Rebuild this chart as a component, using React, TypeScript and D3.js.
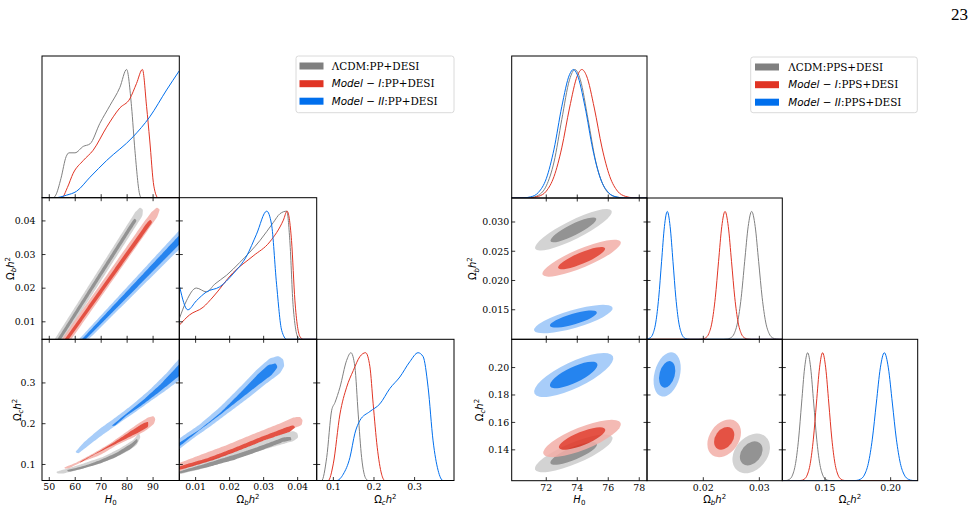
import React from "react";
import * as d3 from "d3";

type P = [number, number];
type Ell = [number, number, number, number, number];

const GRAY = "#808080";
const RED = "#E03424";
const BLUE = "#006FED";
const LIGHT: Record<string, string> = { gray: "#CCCCCC", red: "#F3AEA7", blue: "#99C5F8" };
const DARK: Record<string, string> = { gray: GRAY, red: RED, blue: BLUE };
const SERIES = ["gray", "red", "blue"];

// ---------------- LEFT TRIANGLE : PP+DESI ----------------
const L_H0_RANGE: P = [47.2, 100.1];
const L_OB_RANGE_X: P = [0.0052, 0.0456];
const L_OB_RANGE_Y: P = [0.0048, 0.0469];
const L_OC_RANGE_X: P = [0.059, 0.397];
const L_OC_RANGE_Y: P = [0.0607, 0.407];
const L_H0_TICKS = [50, 60, 70, 80, 90];
const L_H0_LABELS = ["50", "60", "70", "80", "90"];
const L_OB_TICKS = [0.01, 0.02, 0.03, 0.04];
const L_OB_LABELS = ["0.01", "0.02", "0.03", "0.04"];
const L_OC_TICKS = [0.1, 0.2, 0.3];
const L_OC_LABELS = ["0.1", "0.2", "0.3"];

const L_H0_GRAY: P[] = [[47.2, 0], [51.5, 0], [52.5, 0.02], [54.5, 0.15], [56.5, 0.32], [57.6, 0.35], [59.9, 0.35], [63.1, 0.4], [65.7, 0.42], [69.5, 0.58], [73.4, 0.72], [77.2, 0.86], [79.8, 1.0], [81.7, 0.71], [83.0, 0.37], [84.9, 0.02], [85.5, 0], [100.1, 0]];
const L_H0_RED: P[] = [[47.2, 0], [54.8, 0], [57, 0.08], [59.2, 0.19], [63.1, 0.29], [66.9, 0.37], [72.1, 0.55], [77.2, 0.7], [81.0, 0.77], [83.6, 0.89], [85.9, 1.0], [87.5, 0.71], [88.7, 0.45], [90.3, 0.09], [91.9, 0], [100.1, 0]];
const L_H0_BLUE: P[] = [[47.2, 0], [52.2, 0], [56.7, 0.02], [60.5, 0.05], [65.7, 0.16], [72.1, 0.29], [82.3, 0.475], [88.7, 0.63], [95.2, 0.84], [100.1, 0.99]];

const L_OB_GRAY: P[] = [[0.0052, 0.16], [0.0073, 0.3], [0.0102, 0.4], [0.0132, 0.37], [0.0156, 0.43], [0.0191, 0.5], [0.023, 0.6], [0.0289, 0.77], [0.0328, 0.91], [0.0348, 0.98], [0.0368, 1.0], [0.0377, 0.77], [0.0387, 0.25], [0.0402, 0.01], [0.0412, 0], [0.0456, 0]];
const L_OB_RED: P[] = [[0.0052, 0.11], [0.0082, 0.19], [0.0122, 0.25], [0.0151, 0.33], [0.021, 0.52], [0.0269, 0.65], [0.0318, 0.76], [0.0358, 0.93], [0.0369, 1.0], [0.0382, 0.77], [0.0392, 0.3], [0.0407, 0.02], [0.0417, 0], [0.0456, 0]];
const L_OB_BLUE: P[] = [[0.0053, 0.41], [0.0077, 0.23], [0.0102, 0.3], [0.0132, 0.37], [0.0171, 0.41], [0.021, 0.51], [0.025, 0.65], [0.0279, 0.82], [0.0309, 1.0], [0.0323, 0.9], [0.0338, 0.43], [0.0353, 0.07], [0.0368, 0], [0.0456, 0]];

const L_OC_GRAY: P[] = [[0.059, 0], [0.0713, 0], [0.0836, 0.18], [0.0959, 0.55], [0.104, 0.61], [0.1163, 0.73], [0.1327, 0.94], [0.1433, 1.0], [0.153, 0.89], [0.1612, 0.52], [0.1696, 0.18], [0.18, 0.015], [0.186, 0], [0.397, 0]];
const L_OC_RED: P[] = [[0.059, 0], [0.0875, 0], [0.0998, 0.13], [0.1163, 0.52], [0.1327, 0.73], [0.149, 0.86], [0.1654, 0.97], [0.1794, 1.0], [0.19, 0.89], [0.198, 0.6], [0.208, 0.26], [0.2187, 0.05], [0.2268, 0], [0.397, 0]];
const L_OC_BLUE: P[] = [[0.059, 0], [0.1081, 0], [0.1245, 0.05], [0.1408, 0.18], [0.1531, 0.37], [0.1654, 0.47], [0.19, 0.54], [0.2146, 0.6], [0.2391, 0.72], [0.2637, 0.81], [0.2883, 0.93], [0.3086, 1.0], [0.3209, 0.97], [0.3332, 0.73], [0.3455, 0.31], [0.3578, 0.08], [0.3701, 0], [0.397, 0]];

// 2D contours (H0 vs Ωb h²)
const L_H0OB_GRAY_OUT: P[] = [[48.11, 0], [81.0, 0.04], [83.3, 0.0428], [85.0, 0.044], [86.1, 0.0434], [85.9, 0.0415], [51.61, 0]];
const L_H0OB_GRAY_IN: P[] = [[49.16, 0], [81.9, 0.0398], [82.9, 0.0408], [83.7, 0.0401], [50.56, 0]];
const L_H0OB_RED_OUT: P[] = [[50.5, 0], [86.77, 0.04], [89.6, 0.0428], [91.5, 0.044], [92.6, 0.0434], [91.6, 0.0412], [54.1, 0]];
const L_H0OB_RED_IN: P[] = [[51.55, 0], [87.7, 0.0395], [89.0, 0.0404], [89.7, 0.0396], [53.05, 0]];
const L_H0OB_BLUE_OUT: P[] = [[55.7, 0], [102, 0.0388], [102, 0.033], [58.9, 0]];
const L_H0OB_BLUE_IN: P[] = [[56.7, 0], [102, 0.0373], [102, 0.0345], [57.9, 0]];

// 2D contours (H0 vs Ωc h²)
const L_H0OC_GRAY_OUT: P[] = [[52.59, 0.0819], [57.97, 0.0918], [64.38, 0.1049], [70.79, 0.1188], [77.2, 0.1393], [82.33, 0.1597], [84.64, 0.1778], [85.15, 0.1663], [83.61, 0.1474], [79.77, 0.1311], [74.64, 0.1147], [68.23, 0.1], [61.82, 0.0877], [55.41, 0.0778], [53.1, 0.0778]];
const L_H0OC_GRAY_IN: P[] = [[56.69, 0.086], [63.1, 0.0959], [69.51, 0.1106], [75.92, 0.1286], [81.69, 0.1515], [83.87, 0.1638], [84.13, 0.1556], [81.69, 0.1393], [75.92, 0.1188], [69.51, 0.1024], [63.1, 0.0901], [57.33, 0.0819]];
const L_H0OC_RED_OUT: P[] = [[55.67, 0.0926], [60.54, 0.1049], [66.95, 0.127], [73.36, 0.1515], [79.77, 0.1802], [84.9, 0.2031], [88.1, 0.2154], [90.28, 0.2187], [90.92, 0.2105], [90.28, 0.199], [87.46, 0.1843], [82.33, 0.1663], [75.92, 0.1474], [69.51, 0.1229], [63.1, 0.1081], [57.97, 0.0918], [56.05, 0.0893]];
const L_H0OC_RED_IN: P[] = [[61.82, 0.1065], [68.23, 0.1286], [74.64, 0.1532], [81.05, 0.1802], [86.18, 0.2007], [88.1, 0.2048], [88.1, 0.1925], [84.9, 0.1802], [79.77, 0.1638], [73.36, 0.1434], [66.95, 0.1229], [61.82, 0.104]];
const L_H0OC_BLUE_OUT: P[] = [[60.0, 0.13], [63.1, 0.153], [69.5, 0.188], [75.9, 0.217], [82.3, 0.248], [88.7, 0.283], [95.2, 0.324], [101, 0.366], [101, 0.311], [95.2, 0.283], [88.7, 0.254], [82.3, 0.225], [75.9, 0.197], [69.5, 0.168], [64.4, 0.143], [61.2, 0.127]];
const L_H0OC_BLUE_IN: P[] = [[74.0, 0.195], [79.8, 0.225], [86.2, 0.258], [92.6, 0.295], [101, 0.352], [101, 0.322], [92.6, 0.279], [86.2, 0.248], [79.8, 0.22], [75.3, 0.195]];

// 2D contours (Ωb h² vs Ωc h²)
const L_OBOC_GRAY_OUT: P[] = [[0.0048, 0.0877], [0.01316, 0.109], [0.02102, 0.1311], [0.02889, 0.1556], [0.03577, 0.1761], [0.03872, 0.1818], [0.0399, 0.1778], [0.0402, 0.1663], [0.03872, 0.1573], [0.03282, 0.1434], [0.02495, 0.1229], [0.01709, 0.1024], [0.01119, 0.0877], [0.00529, 0.0762]];
const L_OBOC_GRAY_IN: P[] = [[0.0048, 0.0819], [0.01316, 0.1024], [0.02102, 0.1229], [0.02889, 0.145], [0.03577, 0.1663], [0.03794, 0.1679], [0.03823, 0.1597], [0.03577, 0.1556], [0.02889, 0.1335], [0.02102, 0.1106], [0.01316, 0.0926], [0.00529, 0.0778]];
const L_OBOC_RED_OUT: P[] = [[0.0048, 0.1024], [0.01119, 0.1229], [0.01905, 0.1474], [0.02692, 0.1745], [0.03479, 0.2007], [0.03872, 0.2154], [0.04069, 0.2171], [0.04147, 0.2089], [0.04118, 0.1966], [0.03872, 0.1884], [0.03282, 0.172], [0.02495, 0.1474], [0.01709, 0.1229], [0.01119, 0.104], [0.0048, 0.0819]];
const L_OBOC_RED_IN: P[] = [[0.0048, 0.0942], [0.01316, 0.1147], [0.02102, 0.1393], [0.02889, 0.1663], [0.03577, 0.1884], [0.03872, 0.1966], [0.03931, 0.1909], [0.03774, 0.1802], [0.03085, 0.1614], [0.02299, 0.1352], [0.01512, 0.1106], [0.00922, 0.0959], [0.0048, 0.086]];
const L_OBOC_BLUE_OUT: P[] = [[0.0048, 0.1614], [0.01119, 0.1982], [0.01709, 0.24], [0.02299, 0.2891], [0.0284, 0.3358], [0.03184, 0.3604], [0.0343, 0.3661], [0.03577, 0.3579], [0.03607, 0.3415], [0.03479, 0.3235], [0.03085, 0.299], [0.02594, 0.2662], [0.02004, 0.2293], [0.01414, 0.1925], [0.00922, 0.1638], [0.0048, 0.1352]];
const L_OBOC_BLUE_IN: P[] = [[0.0048, 0.1515], [0.01119, 0.1859], [0.01709, 0.2253], [0.02299, 0.2744], [0.0284, 0.3219], [0.03134, 0.344], [0.03361, 0.3481], [0.0341, 0.3383], [0.03233, 0.3194], [0.0284, 0.2949], [0.02299, 0.2596], [0.01709, 0.2212], [0.01119, 0.1843], [0.0048, 0.1417]];

// ---------------- RIGHT TRIANGLE : PPS+DESI ----------------
const R_H0_RANGE: P = [69.77, 78.5];
const R_OB_RANGE: P = [0.00995, 0.0341];
const R_OC_RANGE: P = [0.1175, 0.2206];
const R_H0_TICKS = [72, 74, 76, 78];
const R_H0_LABELS = ["72", "74", "76", "78"];
const R_OB_XTICKS = [0.02, 0.03];
const R_OB_XLABELS = ["0.02", "0.03"];
const R_OB_YTICKS = [0.015, 0.02, 0.025, 0.03];
const R_OB_YLABELS = ["0.015", "0.020", "0.025", "0.030"];
const R_OC_XTICKS = [0.15, 0.2];
const R_OC_XLABELS = ["0.15", "0.20"];
const R_OC_YTICKS = [0.14, 0.16, 0.18, 0.2];
const R_OC_YLABELS = ["0.14", "0.16", "0.18", "0.20"];

const R_H0_GRAY: P[] = [[69.77, 0], [71.0, 0.004], [71.5, 0.022], [72.0, 0.094], [72.5, 0.28], [73.0, 0.61], [73.5, 0.92], [73.85, 1], [74.2, 0.92], [74.7, 0.61], [75.2, 0.28], [75.7, 0.094], [76.2, 0.022], [76.7, 0.004], [77.2, 0], [78.5, 0]];
const R_H0_RED: P[] = [[69.77, 0], [71.0, 0.002], [71.5, 0.013], [72.0, 0.053], [72.5, 0.167], [73.0, 0.39], [73.5, 0.7], [74.0, 0.95], [74.3, 1], [74.6, 0.95], [75.1, 0.7], [75.6, 0.39], [76.1, 0.167], [76.6, 0.053], [77.1, 0.013], [77.6, 0.002], [78.1, 0], [78.5, 0]];
const R_H0_BLUE: P[] = [[69.77, 0], [70.5, 0.001], [71.0, 0.009], [71.5, 0.044], [72.0, 0.15], [72.5, 0.38], [73.0, 0.71], [73.5, 0.96], [73.75, 1], [74.0, 0.96], [74.5, 0.71], [75.0, 0.38], [75.5, 0.15], [76.0, 0.044], [76.5, 0.009], [77.0, 0.001], [77.5, 0], [78.5, 0]];

const R_OB_GRAY: P[] = [[0.00995, 0], [0.0236, 0], [0.02426, 0.002], [0.02488, 0.011], [0.02551, 0.044], [0.02613, 0.135], [0.02676, 0.325], [0.02738, 0.607], [0.02801, 0.882], [0.02863, 1], [0.02926, 0.882], [0.02988, 0.607], [0.03051, 0.325], [0.03113, 0.135], [0.03176, 0.044], [0.03238, 0.011], [0.03301, 0.002], [0.0336, 0], [0.0341, 0]];
const R_OB_RED: P[] = [[0.00995, 0], [0.0192, 0], [0.01982, 0.002], [0.0204, 0.011], [0.02098, 0.044], [0.02156, 0.135], [0.02214, 0.325], [0.02272, 0.607], [0.0233, 0.882], [0.02388, 1], [0.02446, 0.882], [0.02504, 0.607], [0.02562, 0.325], [0.0262, 0.135], [0.02678, 0.044], [0.02736, 0.011], [0.02794, 0.002], [0.0286, 0], [0.0341, 0]];
const R_OB_BLUE: P[] = [[0.00995, 0.002], [0.01051, 0.011], [0.01102, 0.044], [0.01153, 0.135], [0.01204, 0.325], [0.01255, 0.607], [0.01306, 0.882], [0.01357, 1], [0.01408, 0.882], [0.01459, 0.607], [0.0151, 0.325], [0.01561, 0.135], [0.01612, 0.044], [0.01663, 0.011], [0.01714, 0.002], [0.0177, 0], [0.0341, 0]];

const R_OC_GRAY: P[] = [[0.1175, 0], [0.1207, 0.002], [0.123, 0.011], [0.1253, 0.044], [0.1276, 0.135], [0.1299, 0.325], [0.1322, 0.607], [0.1345, 0.882], [0.1368, 1], [0.1391, 0.882], [0.1414, 0.607], [0.1437, 0.325], [0.146, 0.135], [0.1483, 0.044], [0.1506, 0.011], [0.1529, 0.002], [0.1555, 0], [0.2206, 0]];
const R_OC_RED: P[] = [[0.1175, 0], [0.129, 0], [0.13175, 0.002], [0.1341, 0.011], [0.13645, 0.044], [0.1388, 0.135], [0.14115, 0.325], [0.1435, 0.607], [0.14585, 0.882], [0.1482, 1], [0.15055, 0.882], [0.1529, 0.607], [0.15525, 0.325], [0.1576, 0.135], [0.15995, 0.044], [0.1623, 0.011], [0.16465, 0.002], [0.1675, 0], [0.2206, 0]];
const R_OC_BLUE: P[] = [[0.1175, 0], [0.17, 0], [0.17385, 0.002], [0.1769, 0.011], [0.17995, 0.044], [0.183, 0.135], [0.18605, 0.325], [0.1891, 0.607], [0.19215, 0.882], [0.1952, 1], [0.19825, 0.882], [0.2013, 0.607], [0.20435, 0.325], [0.2074, 0.135], [0.21045, 0.044], [0.2135, 0.011], [0.21655, 0.002], [0.2206, 0]];

// ellipses: [centre x, centre y, major-axis tip x, tip y, minor/major ratio]
const R_H0OB_GRAY_OUT: Ell = [73.75, 0.02866, 76.21, 0.0319, 0.22];
const R_H0OB_GRAY_IN: Ell = [73.75, 0.02866, 75.22, 0.0306, 0.22];
const R_H0OB_RED_OUT: Ell = [74.28, 0.02382, 76.8, 0.02662, 0.22];
const R_H0OB_RED_IN: Ell = [74.28, 0.02382, 75.79, 0.0255, 0.22];
const R_H0OB_BLUE_OUT: Ell = [73.75, 0.01341, 76.28, 0.01535, 0.22];
const R_H0OB_BLUE_IN: Ell = [73.75, 0.01341, 75.26, 0.01457, 0.22];
const R_H0OC_GRAY_OUT: Ell = [73.77, 0.1374, 76.27, 0.1492, 0.25];
const R_H0OC_GRAY_IN: Ell = [73.77, 0.1374, 75.27, 0.1445, 0.25];
const R_H0OC_RED_OUT: Ell = [74.31, 0.1483, 76.8, 0.1596, 0.27];
const R_H0OC_RED_IN: Ell = [74.31, 0.1483, 75.8, 0.1551, 0.27];
const R_H0OC_BLUE_OUT: Ell = [73.77, 0.1946, 76.3, 0.2082, 0.3];
const R_H0OC_BLUE_IN: Ell = [73.77, 0.1946, 75.29, 0.2028, 0.3];
const R_OBOC_GRAY_OUT: Ell = [0.02855, 0.1374, 0.03108, 0.1497, 0.73];
const R_OBOC_GRAY_IN: Ell = [0.02855, 0.1374, 0.03007, 0.1449, 0.73];
const R_OBOC_RED_OUT: Ell = [0.02373, 0.1484, 0.02584, 0.1607, 0.71];
const R_OBOC_RED_IN: Ell = [0.02373, 0.1484, 0.025, 0.1558, 0.71];
const R_OBOC_BLUE_OUT: Ell = [0.01355, 0.195, 0.01459, 0.211, 0.56];
const R_OBOC_BLUE_IN: Ell = [0.01355, 0.195, 0.01417, 0.2046, 0.56];

// legends
const L_LEGEND: [string, string][] = [["", "ΛCDM:PP+DESI"], ["Model − I", ":PP+DESI"], ["Model − II", ":PP+DESI"]];
const R_LEGEND: [string, string][] = [["", "ΛCDM:PPS+DESI"], ["Model − I", ":PPS+DESI"], ["Model − II", ":PPS+DESI"]];

// ---------------- rendering ----------------
type Shape = P[] | Ell;
type C2 = { color: string; outer: Shape; inner: Shape };
type Tri = {
  id: string;
  gx: number[];
  gy: number[];
  xDom: P[];
  yDom: (P | null)[];
  xTicks: number[][];
  xLabels: string[][];
  yTicks: (number[] | null)[];
  yLabels: (string[] | null)[];
  d1: P[][][];
  d2: Record<string, C2[]>;
  yTickGap: number;
  yLabelX: number[];
};

const TICK_FONT = "'DejaVu Serif', 'Liberation Serif', serif";
const MATH_FONT = "'DejaVu Sans', 'Liberation Sans', sans-serif";
const PAGE_FONT = "'Liberation Serif', 'DejaVu Serif', serif";
const TL = 3.5;

// densify a polygon (in pixel space) so the smoothing curve follows it closely
function densify(pts: [number, number][], step: number): [number, number][] {
  const out: [number, number][] = [];
  const n = pts.length;
  for (let i = 0; i < n; i++) {
    const a = pts[i], b = pts[(i + 1) % n];
    const d = Math.hypot(b[0] - a[0], b[1] - a[1]);
    const k = Math.max(1, Math.ceil(d / step));
    for (let j = 0; j < k; j++) out.push([a[0] + ((b[0] - a[0]) * j) / k, a[1] + ((b[1] - a[1]) * j) / k]);
  }
  return out;
}

function shapeEl(s: Shape, xs: any, ys: any, fill: string, key: string) {
  if (Array.isArray(s[0])) {
    const px = (s as P[]).map((d) => [xs(d[0]), ys(d[1])] as [number, number]);
    const line = d3.line<[number, number]>().curve(d3.curveBasisClosed);
    return <path key={key} d={line(densify(px, 2.5)) || ""} fill={fill} />;
  }
  const [cx, cy, tx, ty, r] = s as Ell;
  const px = xs(cx), py = ys(cy), qx = xs(tx), qy = ys(ty);
  const a = Math.hypot(qx - px, qy - py);
  const ang = (Math.atan2(qy - py, qx - px) * 180) / Math.PI;
  return <ellipse key={key} cx={px} cy={py} rx={a} ry={a * r} transform={`rotate(${ang} ${px} ${py})`} fill={fill} />;
}

function ParamLabel({ p, x, y, rotate }: { p: number; x: number; y: number; rotate?: boolean }) {
  const tr = rotate ? `rotate(-90 ${x} ${y})` : undefined;
  const common = { x, y, transform: tr, textAnchor: "middle" as const, fontFamily: MATH_FONT, fontSize: 10, fill: "#000" };
  if (p === 0)
    return (
      <text {...common}>
        <tspan fontStyle="italic">H</tspan>
        <tspan fontSize={7} dy={2.2}>0</tspan>
      </text>
    );
  return (
    <text {...common}>
      <tspan>Ω</tspan>
      <tspan fontSize={7} dy={2.2} fontStyle="italic">{p === 1 ? "b" : "c"}</tspan>
      <tspan dy={-2.2} fontStyle="italic">h</tspan>
      <tspan fontSize={7} dy={-4}>2</tspan>
    </text>
  );
}

function Triangle({ t }: { t: Tri }) {
  const xs = t.xDom.map((d, i) => d3.scaleLinear().domain(d).range([t.gx[i], t.gx[i + 1]]));
  const ys = t.yDom.map((d, i) => (d ? d3.scaleLinear().domain(d).range([t.gy[i + 1], t.gy[i]]) : null));
  const out: any[] = [];
  const tickStroke = { stroke: "#000", strokeWidth: 0.8 };
  for (let r = 0; r < 3; r++) {
    for (let c = 0; c <= r; c++) {
      const x0 = t.gx[c], x1 = t.gx[c + 1], y0 = t.gy[r], y1 = t.gy[r + 1];
      const cid = `${t.id}-clip-${r}-${c}`;
      const xsc = xs[c];
      const items: any[] = [];
      if (c === r) {
        const yd = d3.scaleLinear().domain([0, 1.105]).range([y1, y0]);
        const line = d3
          .line<P>()
          .x((d) => xsc(d[0]))
          .y((d) => yd(d[1]))
          .curve(d3.curveMonotoneX);
        t.d1[c].forEach((s, i) => {
          items.push(<path key={`l${i}`} d={line(s) || ""} fill="none" stroke={DARK[SERIES[i]]} strokeWidth={1} />);
        });
      } else {
        const ysc = ys[r]!;
        const cs = t.d2[`${r}-${c}`];
        cs.forEach((ct, i) => {
          items.push(
            <g key={`g${i}`} opacity={0.85}>
              {shapeEl(ct.outer, xsc, ysc, LIGHT[ct.color], "o")}
              {shapeEl(ct.inner, xsc, ysc, DARK[ct.color], "i")}
            </g>
          );
        });
      }
      const ticks: any[] = [];
      t.xTicks[c].forEach((v, i) => {
        const x = xsc(v);
        ticks.push(<line key={`bt${i}`} x1={x} x2={x} y1={y1} y2={y1 - TL} {...tickStroke} />);
        if (c !== r) ticks.push(<line key={`tt${i}`} x1={x} x2={x} y1={y0} y2={y0 + TL} {...tickStroke} />);
      });
      if (r > 0) {
        const ysc = ys[r]!;
        (t.yTicks[r] || []).forEach((v, i) => {
          const y = ysc(v);
          ticks.push(<line key={`lt${i}`} x1={x0} x2={x0 + TL} y1={y} y2={y} {...tickStroke} />);
          if (c !== r) ticks.push(<line key={`rt${i}`} x1={x1} x2={x1 - TL} y1={y} y2={y} {...tickStroke} />);
        });
      }
      out.push(
        <g key={`p${r}${c}`}>
          <defs>
            <clipPath id={cid}>
              <rect x={x0} y={y0} width={x1 - x0} height={y1 - y0} />
            </clipPath>
          </defs>
          <g clipPath={`url(#${cid})`}>{items}</g>
          {ticks}
          <rect x={x0} y={y0} width={x1 - x0} height={y1 - y0} fill="none" stroke="#000" strokeWidth={1} />
        </g>
      );
      if (r === 2) {
        t.xTicks[c].forEach((v, i) => {
          out.push(
            <text key={`xl${c}-${i}`} x={xsc(v)} y={y1 + 9.8} textAnchor="middle" fontFamily={TICK_FONT} fontSize={9.4} fill="#000">
              {t.xLabels[c][i]}
            </text>
          );
        });
        out.push(<ParamLabel key={`xp${c}`} p={c} x={(x0 + x1) / 2} y={y1 + 22.5} />);
      }
      if (c === 0 && r > 0) {
        const ysc = ys[r]!;
        (t.yTicks[r] || []).forEach((v, i) => {
          out.push(
            <text key={`yl${r}-${i}`} x={x0 - t.yTickGap} y={ysc(v) + 3.3} textAnchor="end" fontFamily={TICK_FONT} fontSize={9.4} fill="#000">
              {(t.yLabels[r] || [])[i]}
            </text>
          );
        });
        out.push(<ParamLabel key={`yp${r}`} p={r} x={t.yLabelX[r - 1]} y={(y0 + y1) / 2} rotate />);
      }
    }
  }
  return <g>{out}</g>;
}

function Legend({ x, y, w, h, px, tx, rows }: { x: number; y: number; w: number; h: number; px: number; tx: number; rows: [string, string][] }) {
  const cy = [y + 10, y + 27.7, y + 45.2];
  return (
    <g>
      <rect x={x} y={y} width={w} height={h} rx={2.5} fill="#fff" stroke="#d0d0d0" strokeWidth={0.8} />
      {rows.map((rw, i) => (
        <g key={i}>
          <rect x={px} y={cy[i] - 3.5} width={24} height={7} fill={DARK[SERIES[i]]} />
          <text x={tx} y={cy[i] + 3.7} fontFamily={TICK_FONT} fontSize={10.4} fill="#000">
            {rw[0] ? (
              <tspan fontFamily={MATH_FONT} fontStyle="italic">
                {rw[0]}
              </tspan>
            ) : null}
            <tspan>{rw[1]}</tspan>
          </text>
        </g>
      ))}
    </g>
  );
}

const LEFT: Tri = {
  id: "L",
  gx: [42, 179.3, 316.7, 454],
  gy: [56, 197.7, 339.3, 480.5],
  xDom: [L_H0_RANGE, L_OB_RANGE_X, L_OC_RANGE_X],
  yDom: [null, L_OB_RANGE_Y, L_OC_RANGE_Y],
  xTicks: [L_H0_TICKS, L_OB_TICKS, L_OC_TICKS],
  xLabels: [L_H0_LABELS, L_OB_LABELS, L_OC_LABELS],
  yTicks: [null, L_OB_TICKS, L_OC_TICKS],
  yLabels: [null, L_OB_LABELS, L_OC_LABELS],
  d1: [
    [L_H0_GRAY, L_H0_RED, L_H0_BLUE],
    [L_OB_GRAY, L_OB_RED, L_OB_BLUE],
    [L_OC_GRAY, L_OC_RED, L_OC_BLUE],
  ],
  d2: {
    "1-0": [
      { color: "gray", outer: L_H0OB_GRAY_OUT, inner: L_H0OB_GRAY_IN },
      { color: "red", outer: L_H0OB_RED_OUT, inner: L_H0OB_RED_IN },
      { color: "blue", outer: L_H0OB_BLUE_OUT, inner: L_H0OB_BLUE_IN },
    ],
    "2-0": [
      { color: "gray", outer: L_H0OC_GRAY_OUT, inner: L_H0OC_GRAY_IN },
      { color: "red", outer: L_H0OC_RED_OUT, inner: L_H0OC_RED_IN },
      { color: "blue", outer: L_H0OC_BLUE_OUT, inner: L_H0OC_BLUE_IN },
    ],
    "2-1": [
      { color: "gray", outer: L_OBOC_GRAY_OUT, inner: L_OBOC_GRAY_IN },
      { color: "red", outer: L_OBOC_RED_OUT, inner: L_OBOC_RED_IN },
      { color: "blue", outer: L_OBOC_BLUE_OUT, inner: L_OBOC_BLUE_IN },
    ],
  },
  yTickGap: 6.5,
  yLabelX: [13.5, 21],
};

const RIGHT: Tri = {
  id: "R",
  gx: [511.7, 647, 782.3, 917.7],
  gy: [56, 198, 339.3, 480.7],
  xDom: [R_H0_RANGE, R_OB_RANGE, R_OC_RANGE],
  yDom: [null, R_OB_RANGE, R_OC_RANGE],
  xTicks: [R_H0_TICKS, R_OB_XTICKS, R_OC_XTICKS],
  xLabels: [R_H0_LABELS, R_OB_XLABELS, R_OC_XLABELS],
  yTicks: [null, R_OB_YTICKS, R_OC_YTICKS],
  yLabels: [null, R_OB_YLABELS, R_OC_YLABELS],
  d1: [
    [R_H0_GRAY, R_H0_RED, R_H0_BLUE],
    [R_OB_GRAY, R_OB_RED, R_OB_BLUE],
    [R_OC_GRAY, R_OC_RED, R_OC_BLUE],
  ],
  d2: {
    "1-0": [
      { color: "gray", outer: R_H0OB_GRAY_OUT, inner: R_H0OB_GRAY_IN },
      { color: "red", outer: R_H0OB_RED_OUT, inner: R_H0OB_RED_IN },
      { color: "blue", outer: R_H0OB_BLUE_OUT, inner: R_H0OB_BLUE_IN },
    ],
    "2-0": [
      { color: "gray", outer: R_H0OC_GRAY_OUT, inner: R_H0OC_GRAY_IN },
      { color: "red", outer: R_H0OC_RED_OUT, inner: R_H0OC_RED_IN },
      { color: "blue", outer: R_H0OC_BLUE_OUT, inner: R_H0OC_BLUE_IN },
    ],
    "2-1": [
      { color: "gray", outer: R_OBOC_GRAY_OUT, inner: R_OBOC_GRAY_IN },
      { color: "red", outer: R_OBOC_RED_OUT, inner: R_OBOC_RED_IN },
      { color: "blue", outer: R_OBOC_BLUE_OUT, inner: R_OBOC_BLUE_IN },
    ],
  },
  yTickGap: 2.5,
  yLabelX: [476.5, 483],
};

export default function App() {
  return (
    <svg width={976} height={512} viewBox="0 0 976 512" style={{ position: "absolute", left: 0, top: 0, background: "#fff" }}>
      <rect x={0} y={0} width={976} height={512} fill="#fff" />
      <text x={968} y={20} textAnchor="end" fontFamily={PAGE_FONT} fontSize={17} fill="#000">
        23
      </text>
      <Triangle t={LEFT} />
      <Triangle t={RIGHT} />
      <Legend x={296} y={56} w={158} h={56.7} px={299.5} tx={331.7} rows={L_LEGEND} />
      <Legend x={750.7} y={57} w={166.6} h={55.7} px={755} tx={788.3} rows={R_LEGEND} />
    </svg>
  );
}
